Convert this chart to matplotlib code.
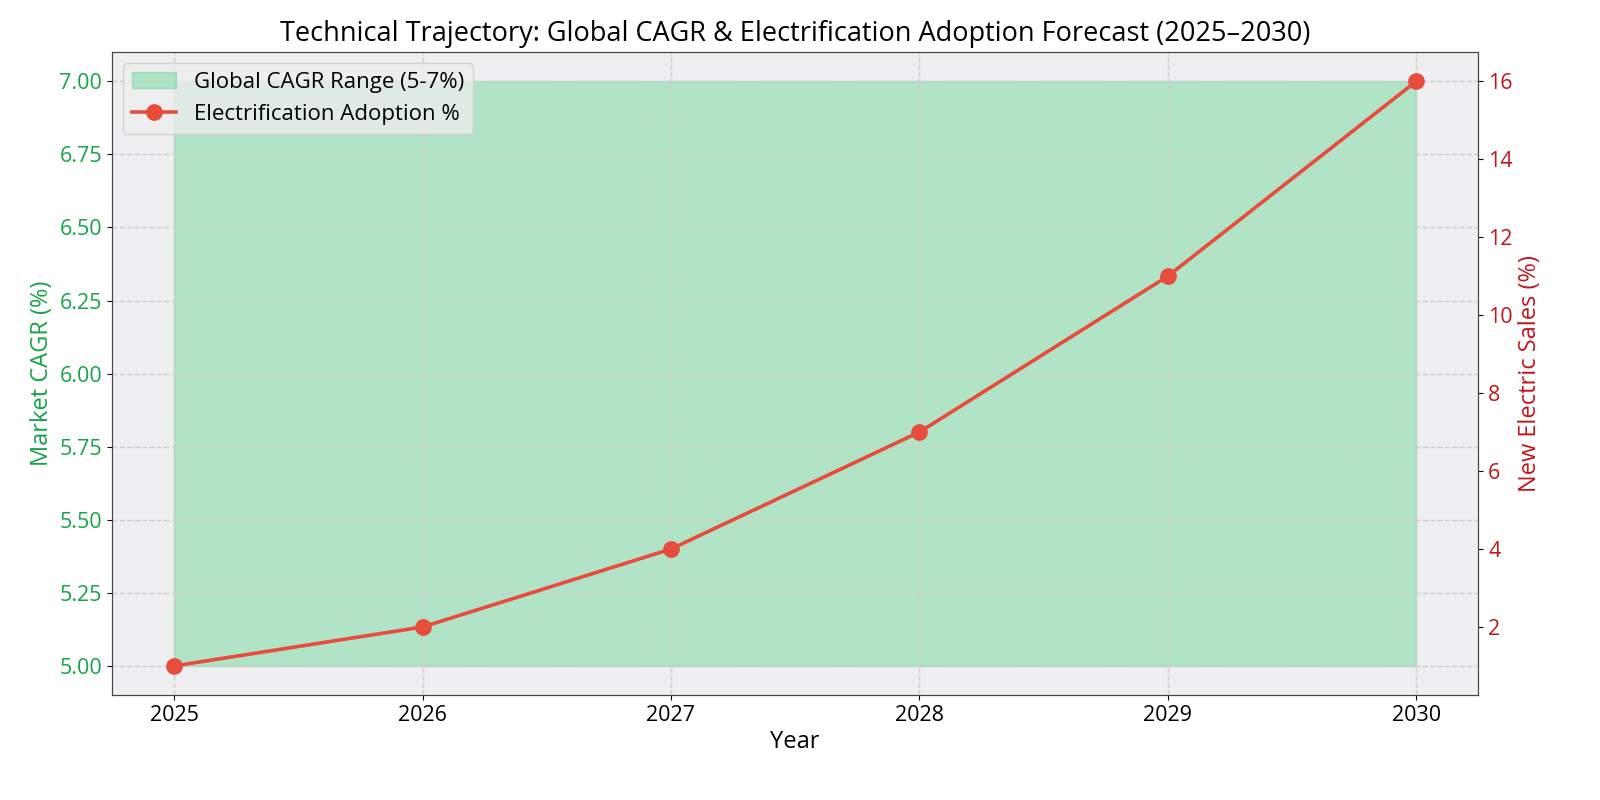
import matplotlib.pyplot as plt

plt.switch_backend("Agg")
plt.rcParams["font.family"] = ["Open Sans", "DejaVu Sans"]

years = [2025, 2026, 2027, 2028, 2029, 2030]
cagr_low = [5, 5, 5, 5, 5, 5]
cagr_high = [7, 7, 7, 7, 7, 7]
adoption = [1, 2, 4, 7, 11, 16]

green = "#2ecc71"
green_text = "#16a34a"
red = "#e74c3c"
red_text = "#c0171b"

fig, ax1 = plt.subplots(figsize=(16, 8), dpi=100)
ax1.set_facecolor("#efeff1")

fill = ax1.fill_between(years, cagr_low, cagr_high, color=green, alpha=0.32,
                        label="Global CAGR Range (5-7%)")
ax1.set_ylabel("Market CAGR (%)", color=green_text, fontsize=17)
ax1.set_xlabel("Year", fontsize=17, labelpad=3)
ax1.tick_params(axis="y", labelcolor=green_text, labelsize=15.5)
ax1.tick_params(axis="x", labelsize=15.5)
ax1.set_xticks(years)
ax1.grid(True, linestyle="--", color="#cfcfcf", linewidth=1)
ax1.yaxis.set_major_formatter(plt.FormatStrFormatter("%.2f"))

ax2 = ax1.twinx()
line, = ax2.plot(years, adoption, color=red, linewidth=2.6, marker="o", markersize=11,
                 label="Electrification Adoption %")
ax2.set_ylabel("New Electric Sales (%)", color=red_text, fontsize=17)
ax2.tick_params(axis="y", labelcolor=red_text, labelsize=15.5)

for a in (ax1, ax2):
    for s in a.spines.values():
        s.set_color("#444444")

ax1.set_title("Technical Trajectory: Global CAGR & Electrification Adoption Forecast (2025\u20132030)",
              fontsize=19.5, pad=8)
ax2.legend([fill, line], [fill.get_label(), line.get_label()], loc="upper left",
           fontsize=16, framealpha=0.8, facecolor="#eeeeee")

fig.subplots_adjust(left=0.07, right=0.924, top=0.935, bottom=0.131)
fig.savefig("out.png", dpi=100)
plt.close(fig)
